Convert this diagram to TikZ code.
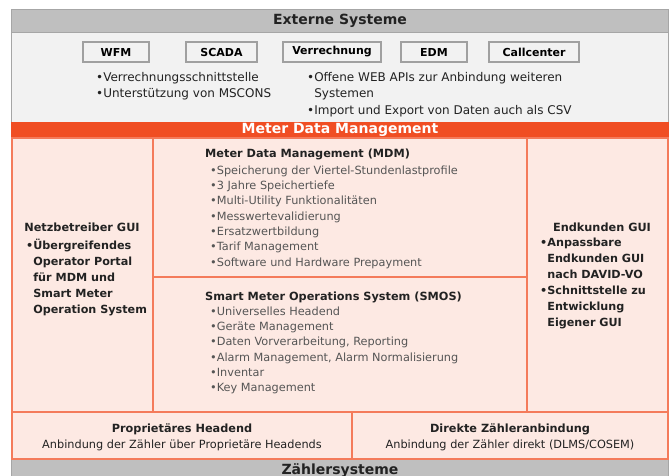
\documentclass[tikz,border=0pt]{standalone}
\usepackage{fontspec}
\setmainfont{DejaVu Sans}
\definecolor{hdrgrey}{HTML}{BFBFBF}
\definecolor{lightgrey}{HTML}{F2F2F2}
\definecolor{framegrey}{HTML}{A6A6A6}
\definecolor{btnline}{HTML}{A0A0A0}
\definecolor{mdmorange}{HTML}{F04E23}
\definecolor{cellpink}{HTML}{FDE9E3}
\definecolor{cellline}{HTML}{F47B5B}
\definecolor{txtgrey}{HTML}{555555}
\definecolor{txtdark}{HTML}{222222}
\tikzset{
  cell/.style={draw=cellline, line width=1.3pt, fill=cellpink},
  btn/.style={draw=btnline, line width=1.4pt, fill=lightgrey, minimum height=20pt, inner sep=0pt, font=\fontsize{11}{12}\selectfont\bfseries, text=black},
  bartitle/.style={font=\fontsize{14}{15}\selectfont\bfseries, inner sep=0pt},
  bullets/.style={font=\fontsize{11.3}{15.3}\selectfont, text=txtgrey, align=left, inner sep=0pt, anchor=north west},
  extbullets/.style={font=\fontsize{12}{16.5}\selectfont, text=txtdark, align=left, inner sep=0pt, anchor=north west},
  sidebullets/.style={font=\fontsize{11.2}{16}\selectfont\bfseries, text=txtdark, align=left, inner sep=0pt, anchor=north west},
  boxtitle/.style={font=\fontsize{11.3}{14}\selectfont\bfseries, text=txtdark, inner sep=0pt, anchor=north west},
  bottomtxt/.style={font=\fontsize{11.3}{16}\selectfont, text=txtdark, align=center, inner sep=0pt}
}
\begin{document}
\begin{tikzpicture}[x=1pt,y=-1pt]
\useasboundingbox (0,0) rectangle (672,476);
\fill[white] (0,0) rectangle (672,476);
% Externe Systeme
\draw[framegrey, fill=hdrgrey] (11,9) rectangle (668,32);
\draw[framegrey, fill=lightgrey] (11,32) rectangle (668,122);
\node[bartitle, text=txtdark] (ext) at (340,21) {Externe Systeme};
\node[btn, minimum width=66pt] (wfm) at (116,52) {WFM};
\node[btn, minimum width=71pt] (scada) at (221.5,52) {SCADA};
\node[btn, minimum width=98pt] (verr) at (332,52) {Verrechnung};
\node[btn, minimum width=66pt] (edm) at (434,52) {EDM};
\node[btn, minimum width=90pt] (call) at (534,52) {Callcenter};
\node[extbullets] (extl) at (96,72) {•Verrechnungsschnittstelle\\•Unterstützung von MSCONS};
\node[extbullets] (extr) at (307,72) {•Offene WEB APIs zur Anbindung weiteren\\\phantom{•}Systemen\\•Import und Export von Daten auch als CSV};
% MDM bar
\fill[mdmorange] (11,122) rectangle (669,138);
\node[bartitle, text=white] (mdmbar) at (340,130) {Meter Data Management};
% cells
\draw[cell] (12,138) rectangle (153,412);
\draw[cell] (153,138) rectangle (527,277);
\draw[cell] (153,277) rectangle (527,412);
\draw[cell] (527,138) rectangle (668,412);
\draw[cell] (12,412) rectangle (352,459);
\draw[cell] (352,412) rectangle (668,459);
% bottom bar
\fill[hdrgrey] (11,460) rectangle (668,480);
\draw[framegrey] (11,460) -- (11,480) (668,460) -- (668,480);
\node[bartitle, text=txtdark] (zs) at (340,471) {Zählersysteme};
% left column
\node[boxtitle, anchor=north] (ngui) at (82,223) {Netzbetreiber GUI};
\node[sidebullets] (nguib) at (26,239) {•Übergreifendes\\\phantom{•}Operator Portal\\\phantom{•}für MDM und\\\phantom{•}Smart Meter\\\phantom{•}Operation System};
% right column
\node[boxtitle, anchor=north] (egui) at (602,223) {Endkunden GUI};
\node[sidebullets] (eguib) at (540,238) {•Anpassbare\\\phantom{•}Endkunden GUI\\\phantom{•}nach DAVID-VO\\•Schnittstelle zu\\\phantom{•}Entwicklung\\\phantom{•}Eigener GUI};
% MDM box
\node[boxtitle] (mdmt) at (205,149) {Meter Data Management (MDM)};
\node[bullets] (mdmb) at (210,165.5) {•Speicherung der Viertel-Stundenlastprofile\\•3 Jahre Speichertiefe\\•Multi-Utility Funktionalitäten\\•Messwertevalidierung\\•Ersatzwertbildung\\•Tarif Management\\•Software und Hardware Prepayment};
% SMOS box
\node[boxtitle] (smost) at (205,292) {Smart Meter Operations System (SMOS)};
\node[bullets] (smosb) at (210,306.5) {•Universelles Headend\\•Geräte Management\\•Daten Vorverarbeitung, Reporting\\•Alarm Management, Alarm Normalisierung\\•Inventar\\•Key Management};
% bottom cells
\node[bottomtxt] (ph) at (182,437) {\textbf{Proprietäres Headend}\\Anbindung der Zähler über Proprietäre Headends};
\node[bottomtxt] (dz) at (510,437) {\textbf{Direkte Zähleranbindung}\\Anbindung der Zähler direkt (DLMS/COSEM)};
\end{tikzpicture}
\end{document}
